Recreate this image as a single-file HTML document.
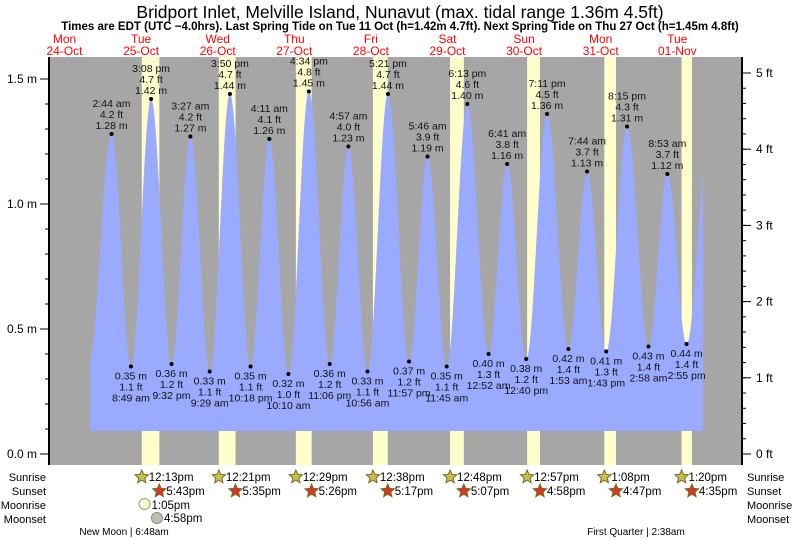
<!DOCTYPE html>
<html><head><meta charset="utf-8">
<style>
html,body{margin:0;padding:0;background:#fff;}
svg{display:block;font-family:"Liberation Sans",sans-serif;}
</style></head>
<body>
<svg id="chart" width="793" height="539" viewBox="0 0 793 539" xmlns="http://www.w3.org/2000/svg">
<text x="400" y="18" font-size="17.5" text-anchor="middle" fill="#000">Bridport Inlet, Melville Island, Nunavut (max. tidal range 1.36m 4.5ft)</text>
<text x="400" y="30" font-size="11.5" font-weight="bold" text-anchor="middle" fill="#000">Times are EDT (UTC −4.0hrs). Last Spring Tide on Tue 11 Oct (h=1.42m 4.7ft). Next Spring Tide on Thu 27 Oct (h=1.45m 4.8ft)</text>
<g id="g"></g>
</svg>
<script>
// ---- data ----
const dayNames = ["Mon","Tue","Wed","Thu","Fri","Sat","Sun","Mon","Tue"];
const dayDates = ["24-Oct","25-Oct","26-Oct","27-Oct","28-Oct","29-Oct","30-Oct","31-Oct","01-Nov"];
// tide extremes: day offset from 25-Oct, time string, height m, feet
const tideDays  = [-1,0,0,0,0,1,1,1,1,2,2,2,2,3,3,3,3,4,4,4,5,5,5,5,6,6,6,6,7,7,7,7];
const tideTimes = ["7:40 pm","2:44 am","8:49 am","3:08 pm","9:32 pm","3:27 am","9:29 am","3:50 pm","10:18 pm","4:11 am","10:10 am","4:34 pm","11:06 pm","4:57 am","10:56 am","5:21 pm","11:57 pm","5:46 am","11:45 am","6:13 pm","12:52 am","6:41 am","12:40 pm","7:11 pm","1:53 am","7:44 am","1:43 pm","8:15 pm","2:58 am","8:53 am","2:55 pm","9:30 pm"];
const tideMeters = [0.37,1.28,0.35,1.42,0.36,1.27,0.33,1.44,0.35,1.26,0.32,1.45,0.36,1.23,0.33,1.44,0.37,1.19,0.35,1.40,0.40,1.16,0.38,1.36,0.42,1.13,0.41,1.31,0.43,1.12,0.44,1.20];
const tideFeet = ["","4.2","1.1","4.7","1.2","4.2","1.1","4.7","1.1","4.1","1.0","4.8","1.2","4.0","1.1","4.7","1.2","3.9","1.1","4.6","1.3","3.8","1.2","4.5","1.4","3.7","1.3","4.3","1.4","3.7","1.4",""];
const tideShown = [false,true,true,true,true,true,true,true,true,true,true,true,true,true,true,true,true,true,true,true,true,true,true,true,true,true,true,true,true,true,true,false];
const sunrise = ["12:13pm","12:21pm","12:29pm","12:38pm","12:48pm","12:57pm","1:08pm","1:20pm"];
const sunset  = ["5:43pm","5:35pm","5:26pm","5:17pm","5:07pm","4:58pm","4:47pm","4:35pm"];
const mTicks = [0.0,0.5,1.0,1.5];
const mTickLabels = ["0.0 m","0.5 m","1.0 m","1.5 m"];
const ftTicks = [0,1,2,3,4,5];
const ftTickLabels = ["0 ft","1 ft","2 ft","3 ft","4 ft","5 ft"];
const dataStartH = -4.0, dataEndH = 7*24+20.1;

// ---- scales ----
const X0=49, X1=742, Y0=57, Y1=465, FILLB=431;
const PXH=76.6/24, MID25=102.8;
const xH = h => MID25 + h*PXH;
const yM = m => 454 - m*250;
const yFt = f => yM(f*0.3048);
function parseT(s){const m=s.match(/(\d+):(\d+)\s*(am|pm)/);let h=+m[1]%12;if(m[3]==="pm")h+=12;return h+ (+m[2])/60;}

const NS="http://www.w3.org/2000/svg";
const g=document.getElementById('g');
function el(tag,attrs,parent){const e=document.createElementNS(NS,tag);for(const k in attrs)e.setAttribute(k,attrs[k]);(parent||g).appendChild(e);return e;}
function txt(x,y,s,attrs,parent){const e=el('text',Object.assign({x:x,y:y,'font-size':11},attrs||{}),parent);e.textContent=s;return e;}

const bg=el('rect',{x:X0,y:Y0,width:X1-X0,height:Y1-Y0,fill:'#a6a6a6'});



for(let d=0;d<sunrise.length;d++){
  const a=xH(d*24+parseT(sunrise[d])), b=xH(d*24+parseT(sunset[d]));
  const r=el('rect',{x:a,y:Y0,width:b-a,height:Y1-Y0,fill:'#ffffcc'});
  
  
}

const hrs=tideTimes.map((t,i)=>tideDays[i]*24+parseT(t));
function heightAt(h){
  if(h<=hrs[0])return tideMeters[0];
  for(let i=0;i<hrs.length-1;i++){
    if(h>=hrs[i]&&h<=hrs[i+1]){const f=(h-hrs[i])/(hrs[i+1]-hrs[i]);const c=(1-Math.cos(Math.PI*f))/2;return tideMeters[i]+(tideMeters[i+1]-tideMeters[i])*c;}
  }
  return tideMeters[tideMeters.length-1];
}
let d=`M${xH(dataStartH)},${FILLB}`;
for(let h=dataStartH;h<=dataEndH;h+=0.1){d+=` L${xH(h).toFixed(2)},${yM(heightAt(h)).toFixed(2)}`;}
d+=` L${xH(dataEndH)},${yM(heightAt(dataEndH))} L${xH(dataEndH)},${FILLB} Z`;
const area=el('path',{d:d,fill:'#9aaaff'});



for(let i=0;i<hrs.length;i++){
  if(!tideShown[i])continue;
  const x=xH(hrs[i]), y=yM(tideMeters[i]);
  const dot=el('circle',{cx:x,cy:y,r:2,fill:'#000'});
  
  
  const high=i%2===1;
  const lines=high?[tideTimes[i],tideFeet[i]+' ft',tideMeters[i].toFixed(2)+' m']:[tideMeters[i].toFixed(2)+' m',tideFeet[i]+' ft',tideTimes[i]];
  const base=high?y-27:y+13;
  const lg=el('g',{});
  
  
  lines.forEach((s,k)=>txt(x,base+k*11,s,{'text-anchor':'middle',fill:'#111','font-size':10.5},lg));
}

el('line',{x1:X0,y1:Y0,x2:X0,y2:Y1,stroke:'#000','stroke-width':2});
el('line',{x1:X1,y1:Y0,x2:X1,y2:Y1,stroke:'#000','stroke-width':2});
for(let m=0;m<=1.6;m+=0.1){el('line',{x1:X0-4,y1:yM(m),x2:X0,y2:yM(m),stroke:'#000'});}
mTicks.forEach((m,i)=>{
  el('line',{x1:X0-9,y1:yM(m),x2:X0,y2:yM(m),stroke:'#000'});
  const t=txt(X0-12,yM(m)+4,mTickLabels[i],{'text-anchor':'end','font-size':12});
  
  
});
for(let f=0;f<=5.2;f+=0.2){el('line',{x1:X1,y1:yFt(f),x2:X1+4,y2:yFt(f),stroke:'#000'});}
ftTicks.forEach((f,i)=>{
  el('line',{x1:X1,y1:yFt(f),x2:X1+9,y2:yFt(f),stroke:'#000'});
  const t=txt(X1+14,yFt(f)+4,ftTickLabels[i],{'font-size':12});
  
  
});

dayNames.forEach((n,i)=>{
  const x=xH((i-1)*24+12);
  const a=txt(x,43,n,{'text-anchor':'middle',fill:'#ff0000','font-size':12});
  
  
  const b=txt(x,55,dayDates[i],{'text-anchor':'middle',fill:'#ff0000','font-size':12});
  
  
});

["Sunrise","Sunset","Moonrise","Moonset"].forEach((s,i)=>{
  const y=481+i*14;
  const l=txt(46,y,s,{'text-anchor':'end','font-size':11});
  
  
  const r=txt(747,y,s,{'font-size':11});
  
  
});
function star(cx,cy,fill){
  let p='';for(let k=0;k<10;k++){const r=k%2?3.2:7;const a=-Math.PI/2+k*Math.PI/5;p+=(k?'L':'M')+(cx+r*Math.cos(a)).toFixed(1)+','+(cy+r*Math.sin(a)).toFixed(1);}
  return el('path',{d:p+'Z',fill:fill,stroke:'#7a6a20','stroke-width':1});
}
sunrise.forEach((s,i)=>{
  const x=xH(i*24+parseT(s));
  const st=star(x,477,'#c8c050');
  
  
  const t=txt(x+7,481,s,{'font-size':11.5});
  
  
});
sunset.forEach((s,i)=>{
  const x=xH(i*24+parseT(s));
  const st=star(x,491,'#dd3322');
  
  
  const t=txt(x+7,495,s,{'font-size':11.5});
  
  
});
const mrx=xH(parseT("1:05pm"));
const mr=el('circle',{cx:mrx,cy:504,r:5.5,fill:'#ffffcc',stroke:'#999'});


txt(mrx+7,509,"1:05pm",{'font-size':11.5});
const msx=xH(parseT("4:58pm"));
const ms=el('circle',{cx:msx,cy:518,r:5.5,fill:'#c0c0b0',stroke:'#888'});


txt(msx+7,522,"4:58pm",{'font-size':11.5});
const nm=txt(124,535,"New Moon | 6:48am",{'text-anchor':'middle','font-size':10});


const fq=txt(636,535,"First Quarter | 2:38am",{'text-anchor':'middle','font-size':10});


</script>
</body></html>
